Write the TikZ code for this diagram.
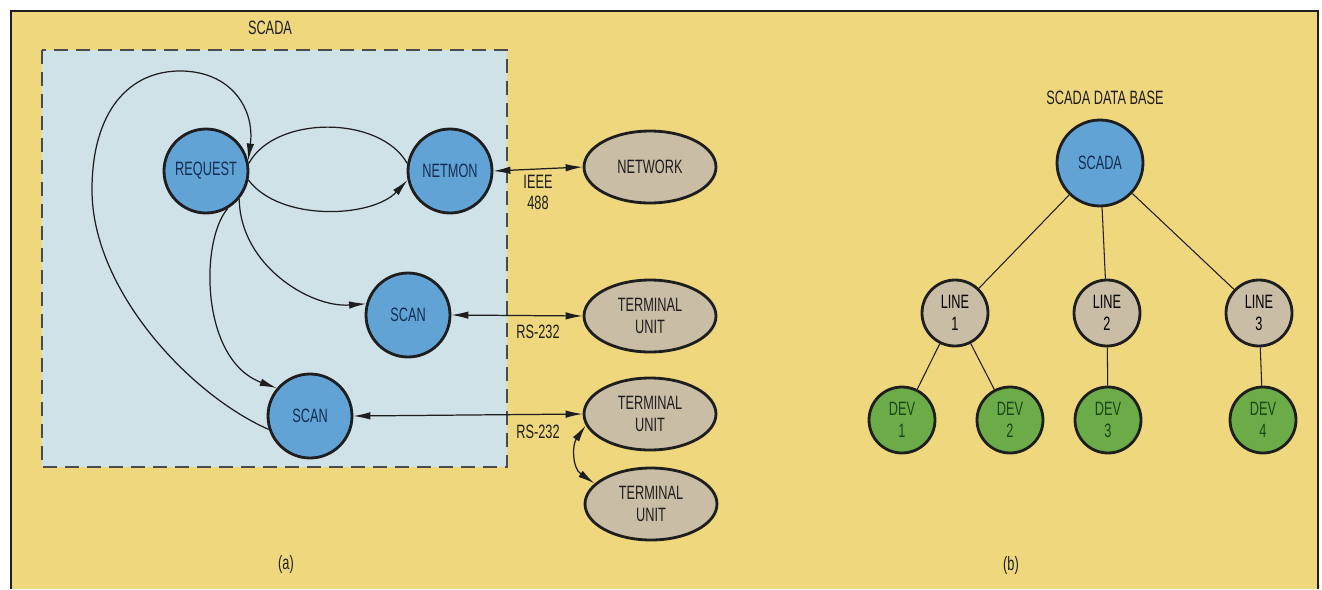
\documentclass[tikz,border=0pt]{standalone}
\usepackage{fontspec}
\setmainfont{Liberation Sans}[FakeStretch=0.66]
\usetikzlibrary{arrows.meta,shapes.geometric}
\definecolor{paper}{RGB}{239,215,126}
\definecolor{frost}{RGB}{207,226,232}
\definecolor{sky}{RGB}{98,163,214}
\definecolor{sand}{RGB}{201,189,166}
\definecolor{moss}{RGB}{108,172,72}
\definecolor{ink}{RGB}{30,30,30}
\definecolor{deep}{RGB}{20,45,80}
\definecolor{pine}{RGB}{25,70,25}
\tikzset{
  >={Latex[length=3.4mm,width=1.5mm]},
  task/.style={circle,draw=ink,line width=1.6pt,fill=sky,text=deep,minimum size=1.68cm,
    inner sep=0pt,font=\fontsize{11}{13}\selectfont},
  unit/.style={ellipse,draw=ink,line width=1.6pt,fill=sand,text=ink,minimum width=2.64cm,
    minimum height=1.44cm,inner sep=0pt,align=center,font=\fontsize{11}{13}\selectfont},
  dbnode/.style={circle,draw=ink,line width=1.6pt,fill=#1,minimum size=1.32cm,inner sep=0pt,
    align=center,font=\fontsize{11}{12.5}\selectfont},
  dbnode/.default=sand,
  tag/.style={text=ink,align=center,font=\fontsize{11}{12}\selectfont},
  flow/.style={draw=ink,line width=0.7pt},
}

\begin{document}
\begin{tikzpicture}[x=0.02cm,y=-0.02cm]
  % page and frame
  \fill[white] (0,0) rectangle (1322,589);
  \useasboundingbox (0,0) rectangle (1322,589);
  \fill[paper] (11,11) rectangle (1318,589);
  \draw[ink,line width=1.2pt] (11,589) -- (11,11) -- (1318,11) -- (1318,589);

  % (a) SCADA processes
  \node[tag] (lbla) at (270,28) {SCADA};
  \filldraw[fill=frost,draw=ink!80,line width=0.85pt,dash pattern=on 0.28cm off 0.16cm]
    (42,50) rectangle (507,467);
  \node[task] (req) at (206,171) {REQUEST};
  \node[task] (mon) at (450,171) {NETMON};
  \node[task] (sc1) at (408,315) {SCAN};
  \node[task] (sc2) at (310,416) {SCAN};
  \node[unit] (net) at (650,167) {NETWORK};
  \node[unit] (tu1) at (650,316) {TERMINAL\\UNIT};
  \node[unit] (tu2) at (650,414) {TERMINAL\\UNIT};
  \node[unit] (tu3) at (651,504) {TERMINAL\\UNIT};

  \draw[flow,->] (sc2.198) .. controls (190,395) and (92,290) .. (92,190)
    .. controls (92,110) and (130,71) .. (180,71)
    .. controls (232,71) and (255,110) .. (req.14);
  \draw[flow] (req.10) .. controls (275,115) and (380,115) .. (mon.170);
  \draw[flow,->] (req.-12) .. controls (280,222) and (372,218) .. (mon.-168);
  \draw[flow,->] (req.-40) .. controls (240,265) and (310,308) .. (sc1.165);
  \draw[flow,->] (req.-60) .. controls (200,240) and (200,360) .. (sc2.140);

  \draw[flow,<->] (mon.east) -- (net.west);
  \draw[flow,<->] (sc1.east) -- (tu1.west);
  \draw[flow,<->] (sc2.east) -- (tu2.west);
  \draw[flow,<->] (tu2.190) .. controls (572,445) and (572,468) .. (tu3.160);

  \node[tag] (ieee) at (538,192) {IEEE\\488};
  \node[tag] (rs1) at (538,332) {RS-232};
  \node[tag] (rs2) at (538,432) {RS-232};
  \node[tag] (capa) at (286,564) {(a)};

  % (b) data base tree
  \node[tag] (lblb) at (1105,98) {SCADA DATA BASE};
  \node[task,minimum size=1.72cm] (root) at (1100,163) {SCADA};
  \node[dbnode] (ln1) at (955,313) {LINE\\1};
  \node[dbnode] (ln2) at (1107,313) {LINE\\2};
  \node[dbnode] (ln3) at (1259,313) {LINE\\3};
  \node[dbnode=moss,text=pine] (dv1) at (902,420) {DEV\\1};
  \node[dbnode=moss,text=pine] (dv2) at (1010,420) {DEV\\2};
  \node[dbnode=moss,text=pine] (dv3) at (1108,420) {DEV\\3};
  \node[dbnode=moss,text=pine] (dv4) at (1263,420) {DEV\\4};
  \foreach \a/\b in {root/ln1,root/ln2,root/ln3,ln1/dv1,ln1/dv2,ln2/dv3,ln3/dv4}
    \draw[flow,line width=0.6pt] (\a) -- (\b);
  \node[tag] (capb) at (1011,565) {(b)};
\end{tikzpicture}
\end{document}
